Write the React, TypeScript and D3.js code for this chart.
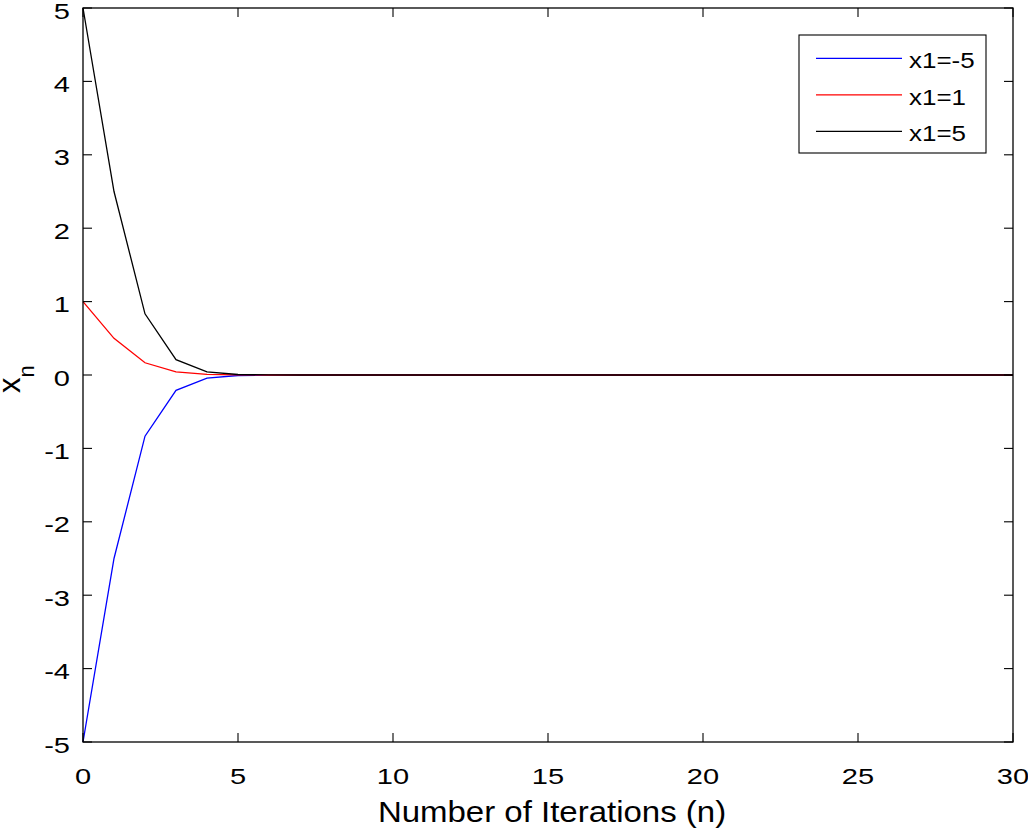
import React, { useEffect, useRef } from "react";
import * as d3 from "d3";

// iteration index n
const iterations = [
  0, 1, 2, 3, 4, 5, 6, 7, 8, 9, 10, 11, 12, 13, 14, 15, 16, 17, 18, 19, 20,
  21, 22, 23, 24, 25, 26, 27, 28, 29, 30,
];

// x_n for each starting value
const startMinus5 = [
  -5, -2.5, -0.8333, -0.2083, -0.0417, -0.0069, -0.001, -0.0001, 0, 0, 0, 0, 0,
  0, 0, 0, 0, 0, 0, 0, 0, 0, 0, 0, 0, 0, 0, 0, 0, 0, 0,
];
const startPlus1 = [
  1, 0.5, 0.1667, 0.0417, 0.0083, 0.0014, 0.0002, 0, 0, 0, 0, 0, 0, 0, 0, 0, 0,
  0, 0, 0, 0, 0, 0, 0, 0, 0, 0, 0, 0, 0, 0,
];
const startPlus5 = [
  5, 2.5, 0.8333, 0.2083, 0.0417, 0.0069, 0.001, 0.0001, 0, 0, 0, 0, 0, 0, 0, 0,
  0, 0, 0, 0, 0, 0, 0, 0, 0, 0, 0, 0, 0, 0, 0,
];

const seriesNames = ["x1=-5", "x1=1", "x1=5"];
const seriesColors = ["#0000ff", "#ff0000", "#000000"];

const xTicks = [0, 5, 10, 15, 20, 25, 30];
const yTicks = [-5, -4, -3, -2, -1, 0, 1, 2, 3, 4, 5];

const font = "'Liberation Sans', Arial, Helvetica, sans-serif";

const App = () => {
  const ref = useRef<SVGSVGElement>(null);

  useEffect(() => {
    const svg = d3.select(ref.current);
    svg.selectAll("*").remove();

    const left = 83,
      right = 1013,
      top = 8,
      bottom = 742;

    const x = d3.scaleLinear().domain([0, 30]).range([left, right]);
    const y = d3.scaleLinear().domain([-5, 5]).range([bottom, top]);

    const all = [startMinus5, startPlus1, startPlus5];

    const line = d3
      .line<number>()
      .x((d, i) => x(iterations[i]))
      .y((d) => y(d));

    const g = svg.append("g");

    // series lines
    all.forEach((vals, k) => {
      g.append("path")
        .datum(vals)
        .attr("fill", "none")
        .attr("stroke", seriesColors[k])
        .attr("stroke-width", 1.3)
        .attr("d", line);
    });

    // box
    g.append("rect")
      .attr("x", left)
      .attr("y", top)
      .attr("width", right - left)
      .attr("height", bottom - top)
      .attr("fill", "none")
      .attr("stroke", "#000")
      .attr("stroke-width", 1.3);

    const tl = 9;
    // x ticks (bottom and top, inward)
    xTicks.forEach((t) => {
      g.append("line")
        .attr("x1", x(t)).attr("x2", x(t))
        .attr("y1", bottom).attr("y2", bottom - tl)
        .attr("stroke", "#000").attr("stroke-width", 1.1);
      g.append("line")
        .attr("x1", x(t)).attr("x2", x(t))
        .attr("y1", top).attr("y2", top + tl)
        .attr("stroke", "#000").attr("stroke-width", 1.1);
      g.append("text")
        .attr("transform", `translate(${x(t)},784) scale(1.35,1)`)
        .attr("text-anchor", "middle")
        .attr("font-family", font)
        .attr("font-size", 21.5)
        .attr("fill", "#000")
        .text(t);
    });

    // y ticks (left and right, inward)
    yTicks.forEach((t) => {
      g.append("line")
        .attr("x1", left).attr("x2", left + tl)
        .attr("y1", y(t)).attr("y2", y(t))
        .attr("stroke", "#000").attr("stroke-width", 1.1);
      g.append("line")
        .attr("x1", right).attr("x2", right - tl)
        .attr("y1", y(t)).attr("y2", y(t))
        .attr("stroke", "#000").attr("stroke-width", 1.1);
      g.append("text")
        .attr("transform", `translate(70,${y(t) + 10.5}) scale(1.35,1)`)
        .attr("text-anchor", "end")
        .attr("font-family", font)
        .attr("font-size", 21.5)
        .attr("fill", "#000")
        .text(t);
    });

    // axis titles
    g.append("text")
      .attr("transform", `translate(552,822) scale(1.1,1)`)
      .attr("text-anchor", "middle")
      .attr("font-family", font)
      .attr("font-size", 30)
      .attr("fill", "#000")
      .text("Number of Iterations (n)");

    const yl = g
      .append("text")
      .attr("transform", "translate(20,379) rotate(-90)")
      .attr("text-anchor", "middle")
      .attr("font-family", font)
      .attr("font-size", 31)
      .attr("fill", "#000");
    yl.append("tspan").text("x");
    yl.append("tspan").attr("font-size", 22).attr("dy", 14).text("n");

    // legend
    const lg = g.append("g");
    lg.append("rect")
      .attr("x", 799)
      .attr("y", 35)
      .attr("width", 187)
      .attr("height", 118)
      .attr("fill", "#fff")
      .attr("stroke", "#000")
      .attr("stroke-width", 1.1);
    seriesNames.forEach((name, k) => {
      const ly = 58.3 + k * 36.5;
      lg.append("line")
        .attr("x1", 816).attr("x2", 902)
        .attr("y1", ly).attr("y2", ly)
        .attr("stroke", seriesColors[k])
        .attr("stroke-width", 1.3);
      lg.append("text")
        .attr("transform", `translate(909,${ly + 10}) scale(1.18,1)`)
        .attr("font-family", font)
        .attr("font-size", 22)
        .attr("fill", "#000")
        .text(name);
    });
  }, []);

  return (
    <svg
      ref={ref}
      width={1028}
      height={835}
      style={{ position: "absolute", left: 0, top: 0, background: "#fff" }}
    ></svg>
  );
};

export default App;
